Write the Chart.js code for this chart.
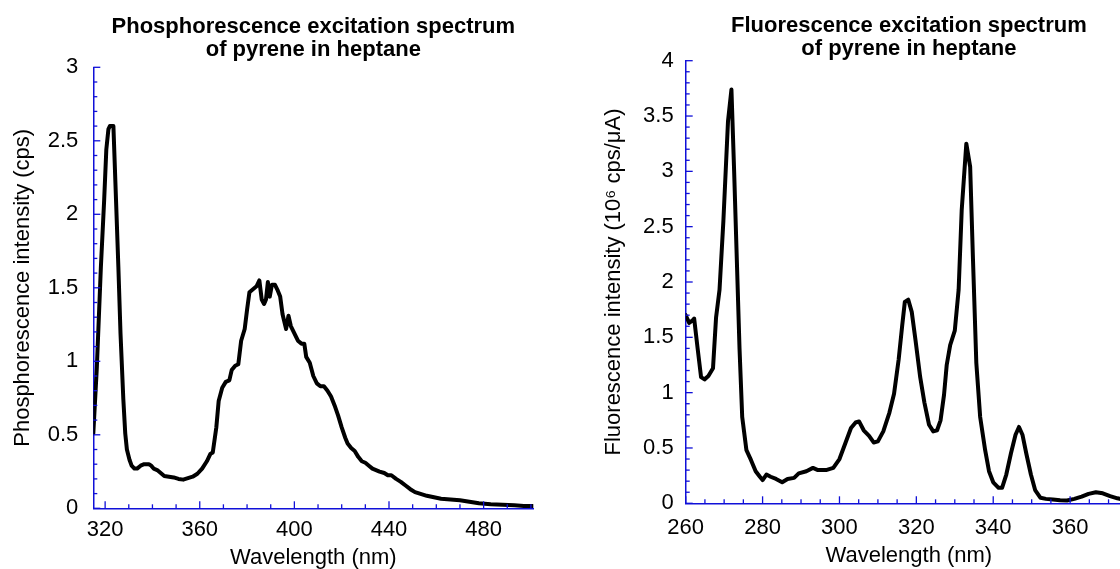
<!DOCTYPE html>
<html>
<head>
<meta charset="utf-8">
<script src="https://cdn.jsdelivr.net/npm/chart.js@4.4.1/dist/chart.umd.min.js"></script>
<style>
  html, body { margin: 0; padding: 0; background: #fff; overflow: hidden; width: 1120px; height: 569px; }
  #wrap { position: relative; width: 1120px; height: 569px; overflow: hidden; }
  canvas { position: absolute; top: 0; }
  #c1 { left: 0; }
  #c2 { left: 560px; }
</style>
</head>
<body>
<div id="wrap">
  <canvas id="c1" width="560" height="569"></canvas>
  <canvas id="c2" width="572" height="569"></canvas>
</div>
<script>
// ---------- Data: phosphorescence excitation spectrum ----------
const phosWavelength = [315, 316.5, 318.2, 319.6, 320.5, 321.4, 322, 323.5, 324.6, 325.6, 326.5, 327.7, 328.5, 329.2, 330.3, 331.2, 332.4, 333.5, 335, 336.5, 338.5, 339.5, 340.5, 342, 343.5, 345, 347, 349, 351, 353, 355, 357, 359, 361, 363, 364.5, 365.5, 367, 368, 369.5, 371, 372.5, 373.5, 375, 376.3, 377.5, 379, 380, 381, 382.5, 384, 385.2, 386.2, 387.2, 388, 388.8, 389.6, 390.5, 391.8, 393, 394, 395, 396.5, 397.5, 398.5, 400, 401.5, 403, 404.2, 405, 406.5, 408, 409.5, 411, 412.5, 414, 415.5, 417, 418.5, 420, 421.5, 422.5, 424, 425.5, 427, 428.5, 430, 431.5, 433, 434.5, 436, 438, 439.5, 441, 443, 445, 447, 449, 451, 453, 456, 459, 462, 466, 470, 474, 478, 483, 488, 493, 497, 501];
const phosIntensity = [0.51, 0.96, 1.64, 2.1, 2.44, 2.58, 2.6, 2.6, 2.1, 1.64, 1.19, 0.74, 0.51, 0.40, 0.33, 0.29, 0.27, 0.27, 0.29, 0.30, 0.30, 0.29, 0.27, 0.26, 0.24, 0.22, 0.215, 0.21, 0.20, 0.195, 0.205, 0.215, 0.235, 0.27, 0.32, 0.37, 0.38, 0.55, 0.73, 0.82, 0.86, 0.87, 0.94, 0.97, 0.98, 1.14, 1.22, 1.35, 1.47, 1.49, 1.51, 1.55, 1.42, 1.39, 1.42, 1.54, 1.44, 1.52, 1.52, 1.48, 1.44, 1.32, 1.22, 1.31, 1.24, 1.19, 1.14, 1.12, 1.12, 1.03, 0.99, 0.9, 0.85, 0.83, 0.83, 0.80, 0.76, 0.70, 0.63, 0.55, 0.48, 0.44, 0.41, 0.39, 0.35, 0.32, 0.31, 0.29, 0.27, 0.26, 0.25, 0.24, 0.225, 0.225, 0.2, 0.18, 0.155, 0.13, 0.11, 0.1, 0.085, 0.075, 0.065, 0.06, 0.055, 0.045, 0.035, 0.028, 0.024, 0.02, 0.016, 0.015];
const phosXTicks = [320, 360, 400, 440, 480];
const phosYTicks = [0, 0.5, 1, 1.5, 2, 2.5, 3];

// ---------- Data: fluorescence excitation spectrum ----------
const fluoWavelength = [260, 260.9, 261.7, 262.2, 263.1, 264, 264.9, 265.9, 267.1, 267.9, 268.8, 269.8, 271, 271.9, 272.6, 273.3, 274, 274.7, 275.8, 277, 278.2, 279.3, 280, 281, 282.1, 283.5, 285.1, 286.5, 288.2, 289.4, 291.4, 293.1, 294.4, 296.5, 298.4, 300, 301.6, 303, 304.2, 305.1, 306.3, 307.7, 308.9, 310, 311.4, 313, 314.2, 315.4, 316.3, 317, 317.9, 318.8, 319.8, 321, 322.1, 323.3, 324.4, 325.4, 326.3, 327.2, 327.9, 328.8, 330, 331, 331.8, 333, 334, 334.7, 335.6, 336.6, 337.9, 338.9, 340, 341.4, 342.3, 343.4, 344.6, 345.8, 346.7, 347.6, 348.6, 349.8, 350.9, 352.3, 353.7, 355.5, 357.4, 359.2, 361.1, 363, 364.8, 366.7, 368.5, 370.4, 372.3, 374, 376];
const fluoIntensity = [1.70, 1.63, 1.65, 1.67, 1.40, 1.14, 1.12, 1.15, 1.22, 1.68, 1.93, 2.55, 3.45, 3.74, 3.0, 2.2, 1.4, 0.78, 0.48, 0.39, 0.29, 0.24, 0.21, 0.26, 0.24, 0.22, 0.19, 0.22, 0.23, 0.27, 0.29, 0.32, 0.30, 0.30, 0.32, 0.40, 0.55, 0.68, 0.73, 0.74, 0.66, 0.61, 0.55, 0.56, 0.65, 0.82, 0.99, 1.3, 1.6, 1.82, 1.84, 1.73, 1.47, 1.14, 0.91, 0.71, 0.65, 0.66, 0.75, 0.98, 1.25, 1.43, 1.56, 1.93, 2.65, 3.25, 3.04, 2.24, 1.27, 0.78, 0.48, 0.29, 0.19, 0.14, 0.14, 0.26, 0.45, 0.62, 0.69, 0.62, 0.45, 0.26, 0.12, 0.05, 0.04, 0.035, 0.028, 0.026, 0.04, 0.06, 0.085, 0.1, 0.09, 0.065, 0.045, 0.032, 0.025];
const fluoXTicks = [260, 280, 300, 320, 340, 360];
const fluoYTicks = [0, 0.5, 1, 1.5, 2, 2.5, 3, 3.5, 4];

// ---------- Styling / helpers ----------
const FONT = "'Liberation Sans', Arial, Helvetica, sans-serif";
const AXIS_BLUE = '#1010d8';
Chart.defaults.font.family = FONT;
Chart.defaults.color = '#000';

const inwardTicks = {
  id: 'inwardTicks',
  afterDatasetsDraw(chart, args, o) {
    const { ctx, chartArea: a } = chart;
    ctx.save();
    ctx.strokeStyle = o.color;
    ctx.lineWidth = o.width;
    for (const id of ['x', 'y']) {
      const s = chart.scales[id], c = o[id];
      const n = Math.floor((s.max - c.from) / c.step + 1e-9);
      for (let i = 0; i <= n; i++) {
        const v = c.from + i * c.step;
        const r = v / c.major;
        const isMajor = Math.abs(r - Math.round(r)) < 1e-6;
        const len = isMajor ? o.majorLen : o.minorLen;
        const p = s.getPixelForValue(v);
        ctx.beginPath();
        if (id === 'x') {
          ctx.moveTo(p, a.bottom);
          ctx.lineTo(p, a.bottom - len);
        } else {
          ctx.moveTo(a.left, p);
          ctx.lineTo(a.left + len, p);
        }
        ctx.stroke();
      }
    }
    ctx.restore();
  }
};

function toPoints(xs, ys) { return xs.map((x, i) => ({ x: x, y: ys[i] })); }

function makeChart(canvasId, cfg) {
  return new Chart(document.getElementById(canvasId), {
    type: 'line',
    data: {
      datasets: [{
        data: toPoints(cfg.xs, cfg.ys),
        borderColor: '#000',
        borderWidth: 4,
        pointRadius: 0,
        tension: 0,
        borderJoinStyle: 'round',
        borderCapStyle: 'round',
        fill: false
      }]
    },
    plugins: [inwardTicks],
    options: {
      responsive: false,
      animation: false,
      devicePixelRatio: 1,
      layout: { padding: { left: 0, right: cfg.padRight, top: 0, bottom: 0 } },
      plugins: {
        legend: { display: false },
        tooltip: { enabled: false },
        title: {
          display: true,
          text: cfg.title,
          color: '#000',
          fullSize: false,
          font: { family: FONT, size: 22, weight: 'bold', lineHeight: 23 / 22 },
          padding: { top: cfg.titleTop, bottom: cfg.titleBottom }
        },
        inwardTicks: {
          color: AXIS_BLUE, width: 1.3, majorLen: 7, minorLen: 4,
          x: { from: cfg.xTickFrom, step: cfg.xMinor, major: cfg.xMajor },
          y: { from: 0, step: 0.1, major: 0.5 }
        }
      },
      scales: {
        x: {
          type: 'linear',
          min: cfg.xMin,
          max: cfg.xMax,
          afterBuildTicks: (s) => { s.ticks = cfg.xTicks.map(v => ({ value: v })); },
          afterFit: (s) => { s.height = cfg.xAxisHeight; },
          grid: { display: false, drawTicks: false },
          border: { display: true, color: AXIS_BLUE, width: 1.5 },
          ticks: { color: '#000', padding: cfg.xTickPad, maxRotation: 0, autoSkip: false,
                   font: { family: FONT, size: 22, lineHeight: 1.2 },
                   callback: (v) => String(v) },
          title: { display: true, text: 'Wavelength (nm)', color: '#000',
                   font: { family: FONT, size: 22, lineHeight: 1 },
                   padding: { top: 0, bottom: cfg.xTitlePad } }
        },
        y: {
          type: 'linear',
          min: 0,
          max: cfg.yMax,
          afterBuildTicks: (s) => { s.ticks = cfg.yTicks.map(v => ({ value: v })); },
          afterFit: (s) => { s.width = cfg.yAxisWidth; },
          grid: { display: false, drawTicks: false },
          border: { display: true, color: AXIS_BLUE, width: 1.5 },
          ticks: { color: '#000', padding: cfg.yTickPad, autoSkip: false,
                   font: { family: FONT, size: 22 },
                   callback: (v) => String(v) },
          title: { display: true, text: cfg.yTitle, color: '#000',
                   font: { family: FONT, size: 22, lineHeight: 1 },
                   padding: { top: cfg.yTitlePad, bottom: 0 } }
        }
      }
    }
  });
}

makeChart('c1', {
  xs: phosWavelength, ys: phosIntensity,
  title: ['Phosphorescence excitation spectrum', 'of pyrene in heptane'],
  titleTop: 15.9, titleBottom: 5.4,
  padRight: 26.7,
  xMin: 315, xMax: 501, xTicks: phosXTicks, xTickFrom: 320, xMinor: 10, xMajor: 40,
  xAxisHeight: 60.7, xTickPad: 8.5, xTitlePad: 0,
  yMax: 3, yTicks: phosYTicks, yAxisWidth: 93.3, yTickPad: 15, yTitlePad: 11.7,
  yTitle: 'Phosphorescence intensity (cps)'
});

makeChart('c2', {
  xs: fluoWavelength, ys: fluoIntensity,
  title: ['Fluorescence excitation spectrum', 'of pyrene in heptane'],
  titleTop: 14.2, titleBottom: 0.5,
  padRight: 0,
  xMin: 260, xMax: 376.1, xTicks: fluoXTicks, xTickFrom: 260, xMinor: 5, xMajor: 20,
  xAxisHeight: 65.7, xTickPad: 11, xTitlePad: 2.5,
  yMax: 4, yTicks: fluoYTicks, yAxisWidth: 125.7, yTickPad: 12, yTitlePad: 43,
  yTitle: 'Fluorescence intensity (10\u2076 cps/\u03BCA)'
});
</script>
</body>
</html>
